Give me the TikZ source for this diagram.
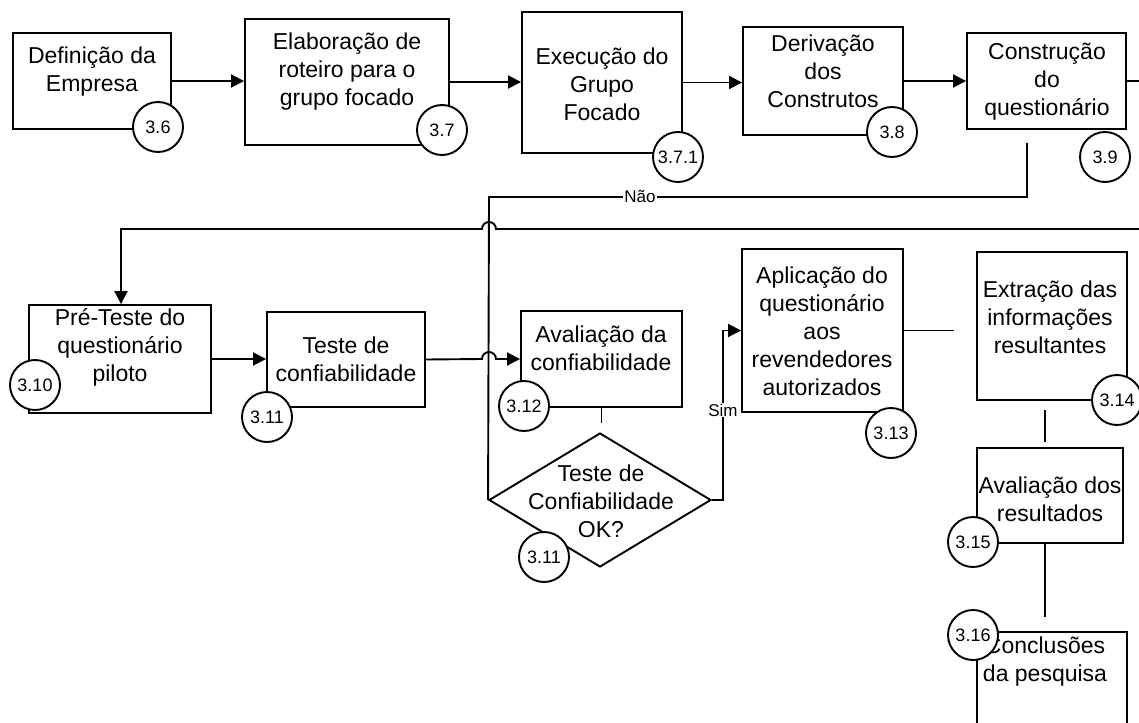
\documentclass[tikz,border=0pt]{standalone}
\usepackage{fontspec}
\setmainfont{Liberation Sans}
\usetikzlibrary{arrows.meta,shapes.geometric}

\begin{document}
\begin{tikzpicture}[x=1pt,y=-1pt,line width=1.9pt,
  box/.style={draw,rectangle,inner sep=0},
  txt/.style={align=center,inner sep=0,font=\fontsize{23}{28}\selectfont},
  num/.style={draw,circle,fill=white,minimum size=50,inner sep=0,font=\fontsize{18}{18}\selectfont},
  lab/.style={fill=white,inner sep=1pt,font=\fontsize{17}{17}\selectfont},
  arr/.style={-{Triangle[length=13pt,width=13pt]}}]
\fill[white] (0,0) rectangle (1139,722);
\useasboundingbox (0,0) rectangle (1139,722);
\clip (0,0) rectangle (1139,722);

% caixas
\node[box,minimum width=158,minimum height=96] (emp) at (92,81) {};
\node[box,minimum width=204,minimum height=126] (rot) at (347,82) {};
\node[box,minimum width=160,minimum height=141] (exe) at (602,82.5) {};
\node[box,minimum width=160,minimum height=108] (der) at (823,81) {};
\node[box,minimum width=159,minimum height=96] (con) at (1046.5,81) {};
\node[box,minimum width=182,minimum height=108] (pre) at (120,359) {};
\node[box,minimum width=158,minimum height=95] (tes) at (346,359.5) {};
\node[box,minimum width=161,minimum height=96] (ava) at (601.5,359) {};
\node[draw,diamond,minimum width=222,minimum height=134,inner sep=0] (dia) at (600,500) {};
\node[box,minimum width=161,minimum height=163] (apl) at (822.5,330.5) {};
\node[box,minimum width=150,minimum height=148] (ext) at (1052,326) {};
\node[box,minimum width=146,minimum height=95] (avd) at (1050,495.5) {};
\node[box,minimum width=150,minimum height=128] (cnc) at (1052,696) {};

% textos
\node[txt] (emp-t) at (92,72) {Definição da\\Empresa};
\node[txt] (rot-t) at (347,72) {Elaboração de\\roteiro para o\\grupo focado};
\node[txt] (exe-t) at (602,84) {Execução do\\Grupo\\Focado};
\node[txt] (der-t) at (823,71) {Derivação\\dos\\Construtos};
\node[txt] (con-t) at (1047,82) {Construção\\do\\questionário};
\node[txt] (pre-t) at (120,347) {Pré-Teste do\\questionário\\piloto};
\node[txt] (tes-t) at (346,359) {Teste de\\confiabilidade};
\node[txt] (ava-t) at (601,348) {Avaliação da\\confiabilidade};
\node[txt] (dia-t) at (601,501) {Teste de\\Confiabilidade\\OK?};
\node[txt] (apl-t) at (822,331) {Aplicação do\\questionário\\aos\\revendedores\\autorizados};
\node[txt] (ext-t) at (1050,317) {Extração das\\informações\\resultantes};
\node[txt] (avd-t) at (1050,499) {Avaliação dos\\resultados};
\node[txt] (cnc-t) at (1045,662) {Conclusões\\da pesquisa};

% ligacoes
\coordinate (e1) at (1139,82);
\coordinate (e2) at (1139,229);
\coordinate (n1) at (1027,143);
\coordinate (n2) at (489,197);
\draw[arr] (emp.east) -- (emp.east -| rot.west);
\draw[arr] (rot.east) -- (rot.east -| exe.west);
\draw[arr] (exe.east) -- (exe.east -| der.west);
\draw[arr] (der.east) -- (der.east -| con.west);
\draw (con.east) -- (con.east -| e1);
\draw (n1) |- (n2) -- (dia.west);
\draw[arr] (e2) -- (496,229) arc[start angle=0,end angle=180,radius=7pt] -- (121,229) -- (pre.north -| 121,0);
\draw[arr] (pre.east) -- (pre.east -| tes.west);
\draw[arr] (tes.east) -- (482,359) arc[start angle=180,end angle=0,radius=7pt] -- (ava.west);
\draw (ava.south) -- ++(0,15);
\draw[arr] (dia.east) -- (723,500) |- (apl.west);
\draw (apl.east) -- ++(50,0);
\draw (1045,410) -- (1045,442);
\draw (avd.south -| 1045,0) -- (1045,617);

% numeros
\node[num] (c36) at (158,127) {3.6};
\node[num] (c37) at (442,130) {3.7};
\node[num] (c371) at (678,157) {3.7.1};
\node[num] (c38) at (892,132) {3.8};
\node[num] (c39) at (1105,157) {3.9};
\node[num] (c310) at (35,385) {3.10};
\node[num] (c311) at (267,417) {3.11};
\node[num] (c312) at (524,406) {3.12};
\node[num] (c311b) at (544,557) {3.11};
\node[num] (c313) at (891,433) {3.13};
\node[num] (c314) at (1117,400) {3.14};
\node[num] (c315) at (973,542) {3.15};
\node[num] (c316) at (973,635) {3.16};

\node[lab] (nao) at (640,196) {Não};
\node[lab] (sim) at (723,410) {Sim};
\end{tikzpicture}
\end{document}
